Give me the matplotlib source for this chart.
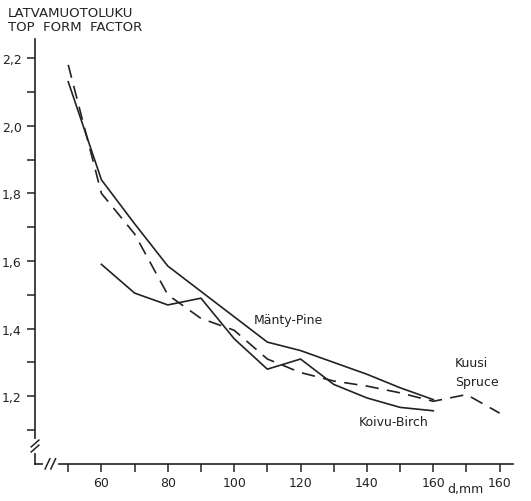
import matplotlib.pyplot as plt

# diameter classes, mm
d_pine = [50, 60, 70, 80, 90, 100, 110, 120, 130, 140, 150, 160]
pine = [2.13, 1.84, 1.71, 1.585, 1.51, 1.435, 1.36, 1.335, 1.30, 1.265, 1.225, 1.19]

d_birch = [60, 70, 80, 90, 100, 110, 120, 130, 140, 150, 160]
birch = [1.59, 1.505, 1.47, 1.49, 1.37, 1.28, 1.31, 1.235, 1.195, 1.167, 1.157]

d_spruce = [50, 60, 70, 80, 90, 100, 110, 120, 130, 140, 150, 160, 170, 180]
spruce = [2.18, 1.80, 1.68, 1.50, 1.43, 1.395, 1.31, 1.27, 1.245, 1.23, 1.21, 1.185, 1.205, 1.15]

x_ticks = [60, 80, 100, 120, 140, 160, 180]
x_labels = ['60', '80', '100', '120', '140', '160', '160']
y_ticks = [1.2, 1.4, 1.6, 1.8, 2.0, 2.2]
y_labels = ['1,2', '1,4', '1,6', '1,8', '2,0', '2,2']

fig = plt.figure(figsize=(5.31, 5.02), dpi=100)
ax = fig.add_axes([0.066, 0.074, 0.90, 0.846])

lc = '#222222'
ax.plot(d_pine, pine, color=lc, lw=1.2)
ax.plot(d_birch, birch, color=lc, lw=1.2)
ax.plot(d_spruce, spruce, color=lc, lw=1.2, dashes=(8, 5))

ax.set_xlim(40, 184)
ax.set_ylim(1.0, 2.256)

for s in ['top', 'right']:
    ax.spines[s].set_visible(False)
for s in ['left', 'bottom']:
    ax.spines[s].set_linewidth(1.2)
    ax.spines[s].set_color(lc)

ax.set_xticks(x_ticks)
ax.set_xticklabels(x_labels)
ax.set_xticks([50, 70, 90, 110, 130, 150, 170], minor=True)
ax.set_yticks(y_ticks)
ax.set_yticklabels(y_labels)
ax.set_yticks([1.1, 1.3, 1.5, 1.7, 1.9, 2.1], minor=True)
ax.tick_params(which='both', direction='out', length=6, width=1.1, color=lc,
               labelsize=9, labelcolor=lc)
ax.tick_params(axis='x', pad=3)

# axis breaks: white gap with a double slash on each axis
kw = dict(transform=ax.transAxes, clip_on=False)
ax.plot([0, 0], [0.030, 0.054], color='white', lw=3, zorder=5, **kw)
ax.plot([0.020, 0.044], [0, 0], color='white', lw=3, zorder=5, **kw)
for off in (-0.006, 0.006):
    ax.plot([-0.008, 0.008], [0.042 + off - 0.008, 0.042 + off + 0.008],
            color=lc, lw=1.1, zorder=6, **kw)
    ax.plot([0.032 + off - 0.005, 0.032 + off + 0.005], [-0.012, 0.012],
            color=lc, lw=1.1, zorder=6, **kw)

ax.text(105.8, 1.428, 'Mänty-Pine', fontsize=9, color=lc, va='center')
ax.text(137.4, 1.126, 'Koivu-Birch', fontsize=9, color=lc, va='center')
ax.text(166.6, 1.273, 'Kuusi\nSpruce', fontsize=9, color=lc, va='center',
        linespacing=1.6)

fig.text(0.876, 0.018, 'd,mm', fontsize=9, color=lc, ha='center')
fig.text(0.015, 0.974, 'LATVAMUOTOLUKU', fontsize=9.5, color=lc, va='center')
fig.text(0.015, 0.946, 'TOP  FORM  FACTOR', fontsize=9.5, color=lc,
         va='center')

fig.savefig('out.png', dpi=100)
